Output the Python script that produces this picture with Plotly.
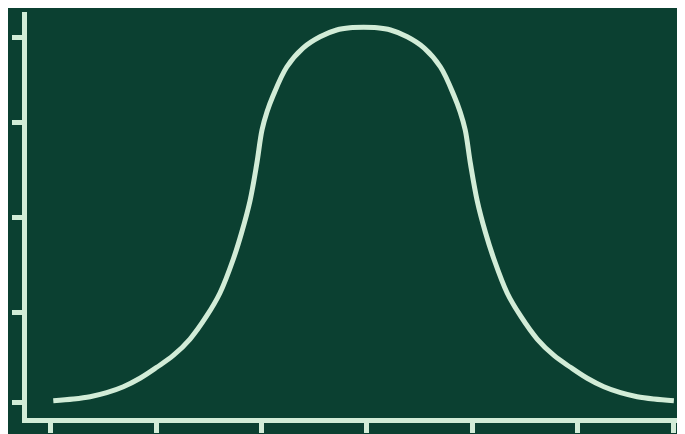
import plotly.graph_objects as go

# Curve samples
x_vals = [0.024, 0.214, 0.373, 0.531, 0.689, 0.847, 1.006, 1.163, 1.322, 1.480,
          1.606, 1.733, 1.812, 1.891, 1.955, 2.005, 2.052, 2.109, 2.240, 2.394,
          2.556, 2.714, 2.840, 2.969,
          3.098, 3.225, 3.383, 3.545, 3.699, 3.829, 3.886, 3.934, 3.984, 4.048,
          4.126, 4.206, 4.332, 4.459, 4.617, 4.776, 4.933, 5.092, 5.250, 5.408,
          5.566, 5.725, 5.914]
y_vals = [0.022, 0.041, 0.066, 0.110, 0.175, 0.268, 0.388, 0.518, 0.698, 0.951,
          1.203, 1.576, 1.866, 2.212, 2.617, 2.990, 3.188, 3.363, 3.681, 3.889,
          4.013, 4.087, 4.111, 4.116,
          4.111, 4.087, 4.013, 3.889, 3.681, 3.363, 3.188, 2.990, 2.617, 2.212,
          1.866, 1.576, 1.203, 0.951, 0.698, 0.518, 0.388, 0.268, 0.175, 0.110,
          0.066, 0.041, 0.022]

x_ticks = [0, 1, 2, 3, 4, 5, 5.913]
y_ticks = [0, 0.993, 2.032, 3.068, 4.001]

BG = "#0b4031"
FG = "#d2ecd7"

fig = go.Figure()
fig.add_trace(go.Scatter(
    x=x_vals, y=y_vals, mode="lines",
    line=dict(color=FG, width=5, shape="spline", smoothing=1.0),
    hoverinfo="skip", showlegend=False,
))

axis_common = dict(
    showline=True, linecolor=FG, linewidth=5,
    ticks="outside", ticklen=10, tickwidth=5, tickcolor=FG,
    showticklabels=False, showgrid=False, zeroline=False,
    tickmode="array",
)
fig.update_xaxes(range=[-0.2254, 6.0958], tickvals=x_ticks, **axis_common)
fig.update_yaxes(range=[-0.1678, 4.2840], tickvals=y_ticks, **axis_common)

fig.update_layout(
    width=685, height=434,
    margin=dict(l=19, r=0, t=4, b=24, pad=0),
    paper_bgcolor=BG, plot_bgcolor=BG,
    showlegend=False,
)
fig.write_html("out.html")
